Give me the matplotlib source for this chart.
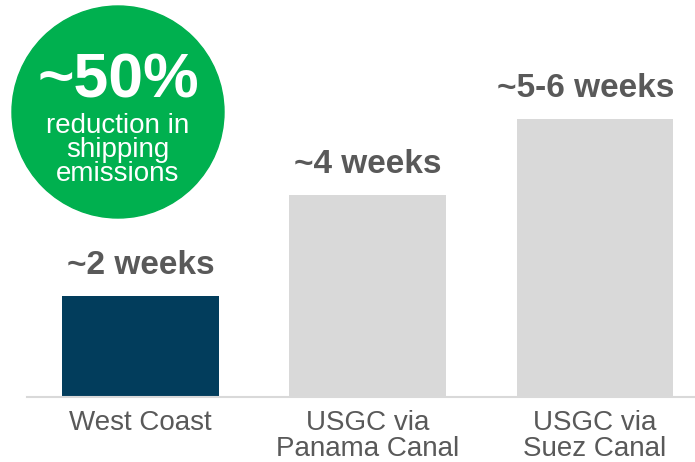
import matplotlib.pyplot as plt
from matplotlib.patches import Ellipse

plt.rcParams['font.family'] = ['Liberation Sans', 'DejaVu Sans']

routes = ['West Coast', 'USGC via\nPanama Canal', 'USGC via\nSuez Canal']
weeks = [2, 4, 5.5]
bar_labels = ['~2 weeks', '~4 weeks', '~5-6 weeks']
label_shift = [0, 0, -7]  # last label pushed left so it fits on the canvas
bar_colors = ['#023d5c', '#d9d9d9', '#d9d9d9']
text_gray = '#595959'

fig = plt.figure(figsize=(6.95, 4.62), dpi=100)
ax = fig.add_axes([27 / 695, 65 / 462, 1 - 27 / 695, 397 / 462])

x = range(len(routes))
bars = ax.bar(x, weeks, width=0.69, color=bar_colors)
ax.set_xlim(-0.5, 2.44)
ax.set_ylim(0, 7.86)

for b, lab, dx in zip(bars, bar_labels, label_shift):
    ax.annotate(lab, (b.get_x() + b.get_width() / 2, b.get_height()),
                xytext=(dx, 16), textcoords='offset points',
                ha='center', va='baseline', fontsize=24, fontweight='bold',
                color=text_gray)

ax.set_xticks(list(x))
ax.set_xticklabels(routes, fontsize=20, color=text_gray, linespacing=1.05)
ax.tick_params(axis='x', length=0, pad=9)
ax.set_yticks([])
for s in ['top', 'right', 'left']:
    ax.spines[s].set_visible(False)
ax.spines['bottom'].set_color('#d9d9d9')
ax.spines['bottom'].set_linewidth(1.5)

# green badge
cx, cy, r = 118, 112, 106
fig.add_artist(Ellipse((cx / 695, 1 - cy / 462), 2 * r / 695, 2 * r / 462,
                       transform=fig.transFigure, color='#00b04f', zorder=5))
fig.text(cx / 695 + 0.001, 1 - 97 / 462, '~50%', ha='center', va='baseline',
         fontsize=45, fontweight='bold', color='white', zorder=6)
for line, base in zip(['reduction in', 'shipping', 'emissions'], [133, 157, 181]):
    fig.text(cx / 695, 1 - base / 462, line, ha='center', va='baseline',
             fontsize=20, color='white', zorder=6)

fig.savefig('out.png', dpi=100)
